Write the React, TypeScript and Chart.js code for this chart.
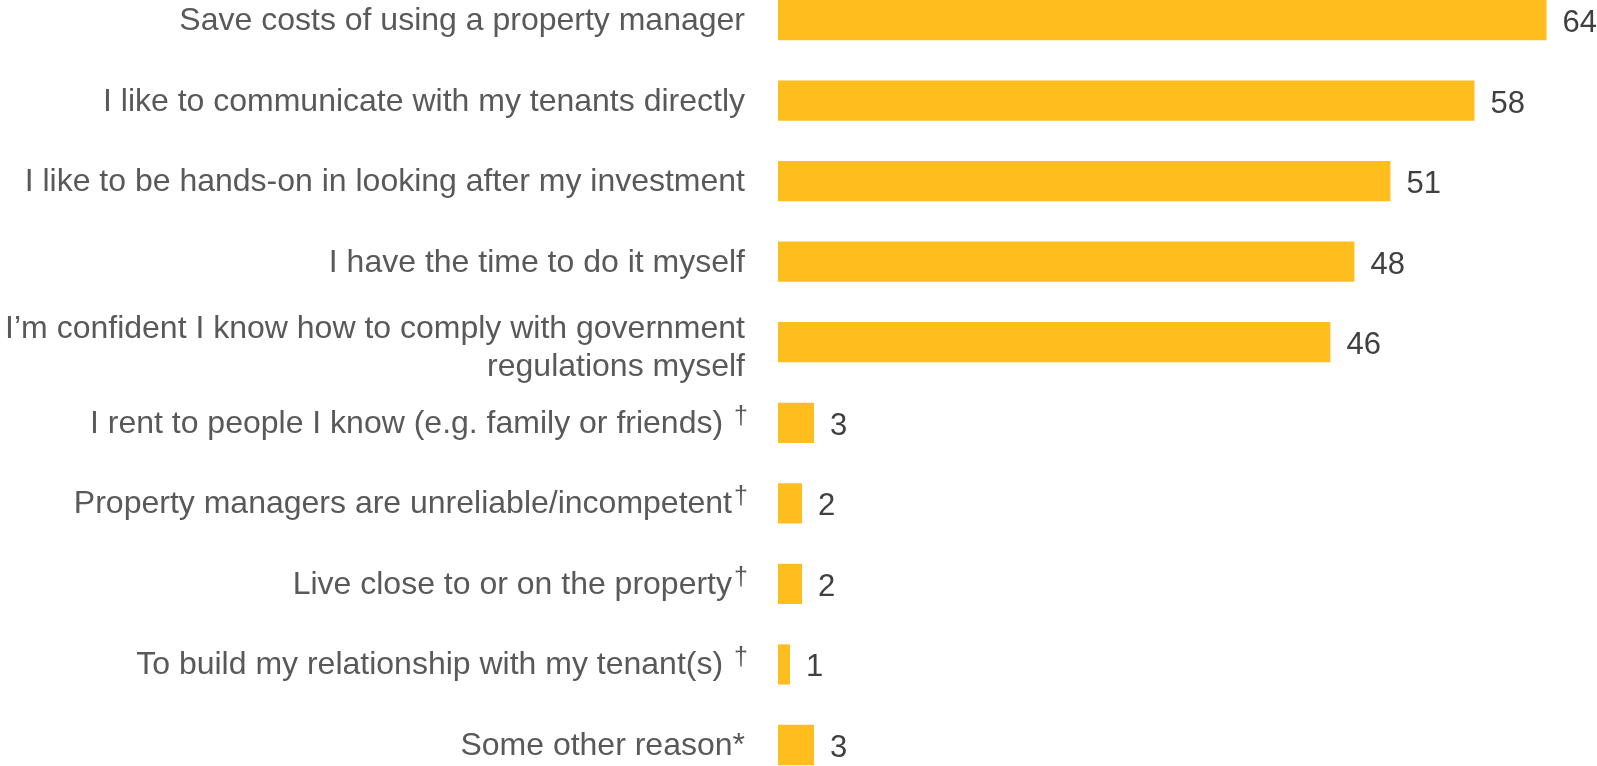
import React, { useEffect, useRef } from "react";
import { Chart, registerables } from "chart.js";

Chart.register(...registerables);

const categories: (string | string[])[] = [
  "Save costs of using a property manager",
  "I like to communicate with my tenants directly",
  "I like to be hands-on in looking after my investment",
  "I have the time to do it myself",
  ["I’m confident I know how to comply with government", "regulations myself"],
  "I rent to people I know (e.g. family or friends) ",
  "Property managers are unreliable/incompetent",
  "Live close to or on the property",
  "To build my relationship with my tenant(s) ",
  "Some other reason*",
];

const values: number[] = [64, 58, 51, 48, 46, 3, 2, 2, 1, 3];

const daggerMarks: boolean[] = [false, false, false, false, false, true, true, true, true, false];

const BAR_COLOR = "#FFBE1E";
const LABEL_COLOR = "#595959";
const VALUE_COLOR = "#404040";
const FONT_FAMILY = "'Liberation Sans', Arial, sans-serif";

const labelPlugin = {
  id: "customLabels",
  afterDatasetsDraw(chart: any) {
    const ctx = chart.ctx as CanvasRenderingContext2D;
    const yScale = chart.scales.y;
    const meta = chart.getDatasetMeta(0);
    ctx.save();
    categories.forEach((cat, i) => {
      const cy = yScale.getPixelForValue(i);
      const rightEdge = 745;
      ctx.fillStyle = LABEL_COLOR;
      ctx.textBaseline = "alphabetic";
      ctx.font = `32px ${FONT_FAMILY}`;
      if (Array.isArray(cat)) {
        ctx.textAlign = "right";
        ctx.fillText(cat[0], rightEdge, cy - 4);
        ctx.fillText(cat[1], rightEdge, cy + 34);
      } else if (daggerMarks[i]) {
        ctx.font = `25px ${FONT_FAMILY}`;
        ctx.textAlign = "left";
        ctx.fillText("†", 734, cy + 1);
        ctx.font = `32px ${FONT_FAMILY}`;
        ctx.textAlign = "right";
        ctx.fillText(cat, 732, cy + 10);
      } else {
        ctx.textAlign = "right";
        ctx.fillText(cat, rightEdge, cy + 10);
      }
      const bar = meta.data[i];
      ctx.fillStyle = VALUE_COLOR;
      ctx.font = `31px ${FONT_FAMILY}`;
      ctx.textAlign = "left";
      ctx.fillText(String(values[i]), bar.x + 16, cy + 12);
    });
    ctx.restore();
  },
};

export default function App() {
  const canvasRef = useRef<HTMLCanvasElement | null>(null);

  useEffect(() => {
    if (!canvasRef.current) return;
    const chart = new Chart(canvasRef.current, {
      type: "bar",
      data: {
        labels: categories.map((c) => (Array.isArray(c) ? c.join(" ") : c)),
        datasets: [
          {
            data: values,
            backgroundColor: BAR_COLOR,
            borderWidth: 0,
            barPercentage: 1,
            categoryPercentage: 0.5,
            clip: false as any,
          },
        ],
      },
      options: {
        indexAxis: "y",
        animation: false,
        responsive: false,
        maintainAspectRatio: false,
        layout: { padding: { left: 778, right: 0, top: 20, bottom: 21 } },
        plugins: {
          legend: { display: false },
          tooltip: { enabled: false },
        },
        scales: {
          x: {
            type: "linear",
            min: 0,
            max: 68.2,
            display: false,
            grid: { display: false },
          },
          y: {
            type: "category",
            offset: false,
            display: false,
            grid: { display: false },
          },
        },
      },
      plugins: [labelPlugin],
    });
    return () => chart.destroy();
  }, []);

  return (
    <div style={{ position: "fixed", left: 0, top: 0, width: 1597, height: 766, background: "#fff" }}>
      <canvas ref={canvasRef} width={1597} height={766} style={{ width: 1597, height: 766, display: "block" }} />
    </div>
  );
}
